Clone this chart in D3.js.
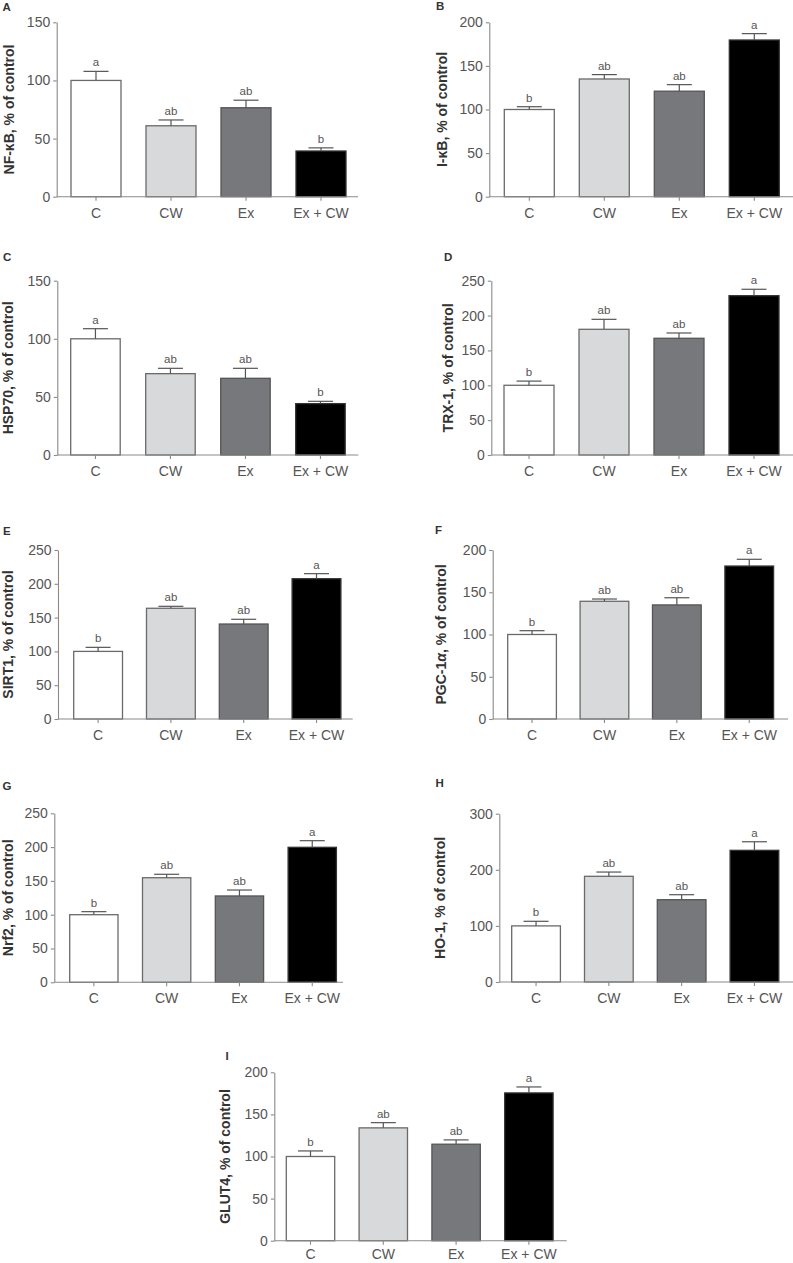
<!DOCTYPE html>
<html>
<head>
<meta charset="utf-8">
<script src="https://cdn.jsdelivr.net/npm/d3@7"></script>
<style>
  html, body { margin: 0; padding: 0; background: #fff; }
  svg { display: block; font-family: "Liberation Sans", Arial, Helvetica, sans-serif; }
</style>
</head>
<body>
<svg id="chart" width="793" height="1263"></svg>
<script>
// ---------------- data ----------------
const categories = ["C", "CW", "Ex", "Ex + CW"];
const panelIds = ["A", "B", "C", "D", "E", "F", "G", "H", "I"];
const yLabels = ["NF-κB, % of control", "I-κB, % of control", "HSP70, % of control", "TRX-1, % of control",
                 "SIRT1, % of control", "PGC-1α, % of control", "Nrf2, % of control", "HO-1, % of control",
                 "GLUT4, % of control"];
const yMaxes = [150, 200, 150, 250, 250, 200, 250, 300, 200];
const yTickSteps = [50, 50, 50, 50, 50, 50, 50, 100, 50];

const meanA = [100, 61, 76.5, 39.3],   errA = [7.8, 5, 6.5, 2.7];
const meanB = [100, 135, 121, 179.7],  errB = [3.2, 5, 7.5, 7.3];
const meanC = [100, 70, 66, 44.2],     errC = [8.7, 4.6, 8.6, 2];
const meanD = [100, 180.3, 167.4, 228.5], errD = [6, 14.3, 7.6, 9.2];
const meanE = [100, 163.8, 140.5, 207.5], errE = [6, 2.9, 7, 7.5];
const meanF = [100, 139.3, 135, 181],  errF = [4.5, 2.7, 8.5, 8];
const meanG = [100, 154.7, 127.7, 199.7], errG = [4.5, 5.1, 8.8, 9.8];
const meanH = [100, 188.4, 146.7, 234.7], errH = [8.2, 7.6, 8.9, 15.3];
const meanI = [100, 134, 114.6, 175.5], errI = [6.6, 6.2, 5.1, 7.1];

const lettersDown = ["a", "ab", "ab", "b"];
const lettersUp = ["b", "ab", "ab", "a"];

const means = [meanA, meanB, meanC, meanD, meanE, meanF, meanG, meanH, meanI];
const errs = [errA, errB, errC, errD, errE, errF, errG, errH, errI];
const letters = [lettersDown, lettersUp, lettersDown, lettersUp, lettersUp, lettersUp, lettersUp, lettersUp, lettersUp];

// ---------------- layout / style ----------------
const fills = ["#ffffff", "#d8d9db", "#77787c", "#000000"];
const strokes = ["#6a6a6a", "#6a6a6a", "#555555", "#333333"];

// ax: y-axis x, x1: first bar left, step, bw: bar width, axEnd, yTop (max), yBot (0), labX: y-title centre x, letter pos
const layout = [
  {ax: 56.7,  x1: 71,    step: 75,   bw: 50,   axEnd: 358,   yTop: 22.3,   yBot: 196.7,  labX: 9,     lx: 2.5,   ly: 11,   xpad: 7},
  {ax: 489.3, x1: 504.3, step: 75,   bw: 50,   axEnd: 793,   yTop: 22.3,   yBot: 196.7,  labX: 441.5, lx: 436,   ly: 10,   xpad: 7},
  {ax: 57.3,  x1: 70.7,  step: 75,   bw: 49.5, axEnd: 358.3, yTop: 280.7,  yBot: 455,    labX: 8,     lx: 3,     ly: 261,  xpad: 7},
  {ax: 491.3, x1: 504,   step: 75,   bw: 50,   axEnd: 793,   yTop: 280.7,  yBot: 455,    labX: 447.5, lx: 444,   ly: 261,  xpad: 7},
  {ax: 58,    x1: 73.7,  step: 72.8, bw: 48.8, axEnd: 352.7, yTop: 550,    yBot: 719,    labX: 7.5,   lx: 3,     ly: 535,  xpad: 7},
  {ax: 492.7, x1: 507.7, step: 72.4, bw: 48.7, axEnd: 788,   yTop: 550,    yBot: 719,    labX: 440.5, lx: 435,   ly: 534,  xpad: 7},
  {ax: 54.3,  x1: 69.7,  step: 72.8, bw: 48.3, axEnd: 343,   yTop: 813.3,  yBot: 982.3,  labX: 7.5,   lx: 2.5,   ly: 790,  xpad: 7},
  {ax: 499.3, x1: 511.7, step: 72.8, bw: 48.7, axEnd: 793,   yTop: 813.7,  yBot: 982,    labX: 440,   lx: 435.5, ly: 787,  xpad: 7},
  {ax: 274.3, x1: 286.3, step: 72.8, bw: 48.4, axEnd: 566.7, yTop: 1072.3, yBot: 1240.7, labX: 224.5, lx: 225.5, ly: 1060, xpad: 4.5}
];

const svg = d3.select("#chart");
const axisColor = "#8a8a8a";
const tickTextColor = "#555";

panelIds.forEach((id, i) => {
  const L = layout[i];
  const g = svg.append("g").attr("class", "panel-" + id);
  const data = categories.map((c, k) => ({cat: c, mean: means[i][k], err: errs[i][k], letter: letters[i][k], k}));

  const y = d3.scaleLinear().domain([0, yMaxes[i]]).range([L.yBot, L.yTop]);
  const pad = (L.step - L.bw) / L.step;
  const r0 = L.x1 - (L.step - L.bw) / 2;
  const x = d3.scaleBand().domain(categories).range([r0, r0 + 4 * L.step])
    .paddingInner(pad).paddingOuter(pad / 2);

  // bars
  g.selectAll("rect.bar").data(data).join("rect")
    .attr("class", "bar")
    .attr("x", d => x(d.cat))
    .attr("width", x.bandwidth())
    .attr("y", d => y(d.mean))
    .attr("height", d => y(0) - y(d.mean))
    .attr("fill", d => fills[d.k])
    .attr("stroke", d => strokes[d.k])
    .attr("stroke-width", 1.3);

  // error bars (upper only)
  const eb = g.selectAll("g.err").data(data).join("g").attr("class", "err")
    .attr("stroke", "#555").attr("stroke-width", 1.2);
  eb.append("line")
    .attr("x1", d => x(d.cat) + x.bandwidth() / 2).attr("x2", d => x(d.cat) + x.bandwidth() / 2)
    .attr("y1", d => y(d.mean)).attr("y2", d => y(d.mean + d.err));
  eb.append("line")
    .attr("x1", d => x(d.cat) + x.bandwidth() / 2 - 12.5).attr("x2", d => x(d.cat) + x.bandwidth() / 2 + 12.5)
    .attr("y1", d => y(d.mean + d.err)).attr("y2", d => y(d.mean + d.err));

  // significance letters
  g.selectAll("text.sig").data(data).join("text")
    .attr("class", "sig")
    .attr("x", d => x(d.cat) + x.bandwidth() / 2)
    .attr("y", d => y(d.mean + d.err) - 5)
    .attr("text-anchor", "middle")
    .attr("font-size", 11.5)
    .attr("fill", "#555")
    .text(d => d.letter);

  // y axis
  const ticks = d3.range(0, yMaxes[i] + 0.001, yTickSteps[i]);
  const yAxis = g.append("g").attr("transform", `translate(${L.ax},0)`)
    .call(d3.axisLeft(y).tickValues(ticks).tickSize(3.5).tickSizeOuter(0).tickPadding(3).tickFormat(d3.format("d")));
  yAxis.select(".domain").attr("stroke", axisColor).attr("stroke-width", 1.1);
  yAxis.selectAll(".tick line").attr("stroke", axisColor).attr("stroke-width", 1.1);
  yAxis.selectAll(".tick text").attr("font-size", 14).attr("fill", tickTextColor)
    .attr("font-family", "Liberation Sans, Arial, sans-serif");

  // x axis
  const xAxis = g.append("g").attr("transform", `translate(0,${L.yBot})`)
    .call(d3.axisBottom(x).tickSize(4).tickSizeOuter(0).tickPadding(L.xpad));
  xAxis.select(".domain").remove();
  xAxis.selectAll(".tick line").attr("stroke", axisColor).attr("stroke-width", 1.1);
  xAxis.selectAll(".tick text").attr("font-size", 14).attr("fill", tickTextColor)
    .attr("font-family", "Liberation Sans, Arial, sans-serif");
  g.append("line")
    .attr("x1", L.ax).attr("x2", L.axEnd).attr("y1", L.yBot).attr("y2", L.yBot)
    .attr("stroke", axisColor).attr("stroke-width", 1.1);

  // y title
  const yc = (L.yTop + L.yBot) / 2;
  const t = g.append("text")
    .attr("transform", `translate(${L.labX},${yc}) rotate(-90)`)
    .attr("text-anchor", "middle")
    .attr("dominant-baseline", "central")
    .attr("font-size", 14)
    .attr("font-weight", "bold")
    .attr("fill", "#333");
  const lab = yLabels[i];
  if (lab.includes("α")) {
    const parts = lab.split("α");
    t.append("tspan").text(parts[0]);
    t.append("tspan").attr("font-style", "italic").text("α");
    t.append("tspan").text(parts[1]);
  } else {
    t.text(lab);
  }

  // panel letter
  g.append("text")
    .attr("x", L.lx).attr("y", L.ly)
    .attr("font-size", 11.5)
    .attr("font-weight", "bold")
    .attr("fill", "#333")
    .text(id);
});
</script>
</body>
</html>
